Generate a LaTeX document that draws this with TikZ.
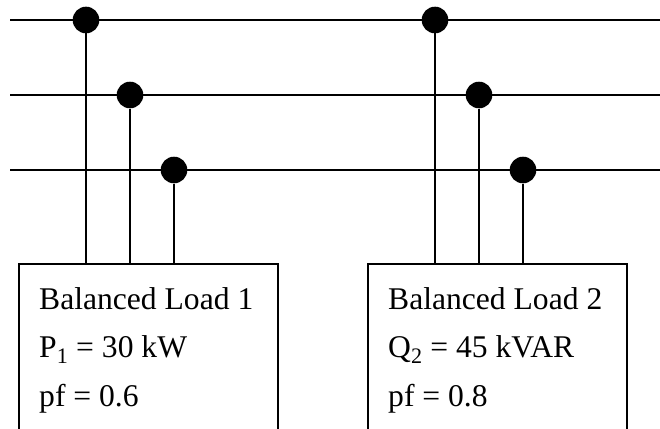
\documentclass[tikz,border=0pt]{standalone}
\usepackage{fontspec}
\setmainfont{Liberation Serif}
\begin{document}
\begin{tikzpicture}[x=1pt,y=-1pt]
	\tikzstyle{every node}+=[inner sep=0pt]
	\tikzstyle{tap}=[circle, fill=black, minimum size=26.6pt]
	\tikzstyle{wire}=[black, line width=1.5pt]
	\tikzstyle{loadbox}=[draw=black, line width=1.5pt, minimum width=259pt, minimum height=200pt, anchor=north west]
	\tikzstyle{loadtext}=[anchor=base west, font={\fontsize{31.6}{48}\selectfont}]
	\clip (0,0) rectangle (660,428);
	% bus lines
	\foreach \n/\y in {a/20, b/95, c/170} {
		\coordinate (\n0) at (10,\y);
		\coordinate (\n1) at (660,\y);
		\draw [wire] (\n0) -- (\n1);
	}
	% load boxes
	\node [loadbox] (box1) at (18,263) {};
	\node [loadbox] (box2) at (367,263) {};
	\node [loadtext] (name1) at ([shift={(21,46)}]box1.north west) {Balanced Load 1};
	\node [loadtext] (pow1) at ([shift={(21,94)}]box1.north west) {P\textsubscript{1} = 30 kW};
	\node [loadtext] (pf1) at ([shift={(21,143)}]box1.north west) {pf = 0.6};
	\node [loadtext] (name2) at ([shift={(21,46)}]box2.north west) {Balanced Load 2};
	\node [loadtext] (pow2) at ([shift={(21,94)}]box2.north west) {Q\textsubscript{2} = 45 kVAR};
	\node [loadtext] (pf2) at ([shift={(21,143)}]box2.north west) {pf = 0.8};
	% taps
	\node [tap] (t1a) at (86,20) {};
	\node [tap] (t1b) at (130,95) {};
	\node [tap] (t1c) at (174,170) {};
	\node [tap] (t2a) at (435,20) {};
	\node [tap] (t2b) at (479,95) {};
	\node [tap] (t2c) at (523,170) {};
	\foreach \t/\b in {t1a/box1, t1b/box1, t1c/box1, t2a/box2, t2b/box2, t2c/box2}
		\draw [wire] (\t) -- (\t |- \b.north);
\end{tikzpicture}
\end{document}
